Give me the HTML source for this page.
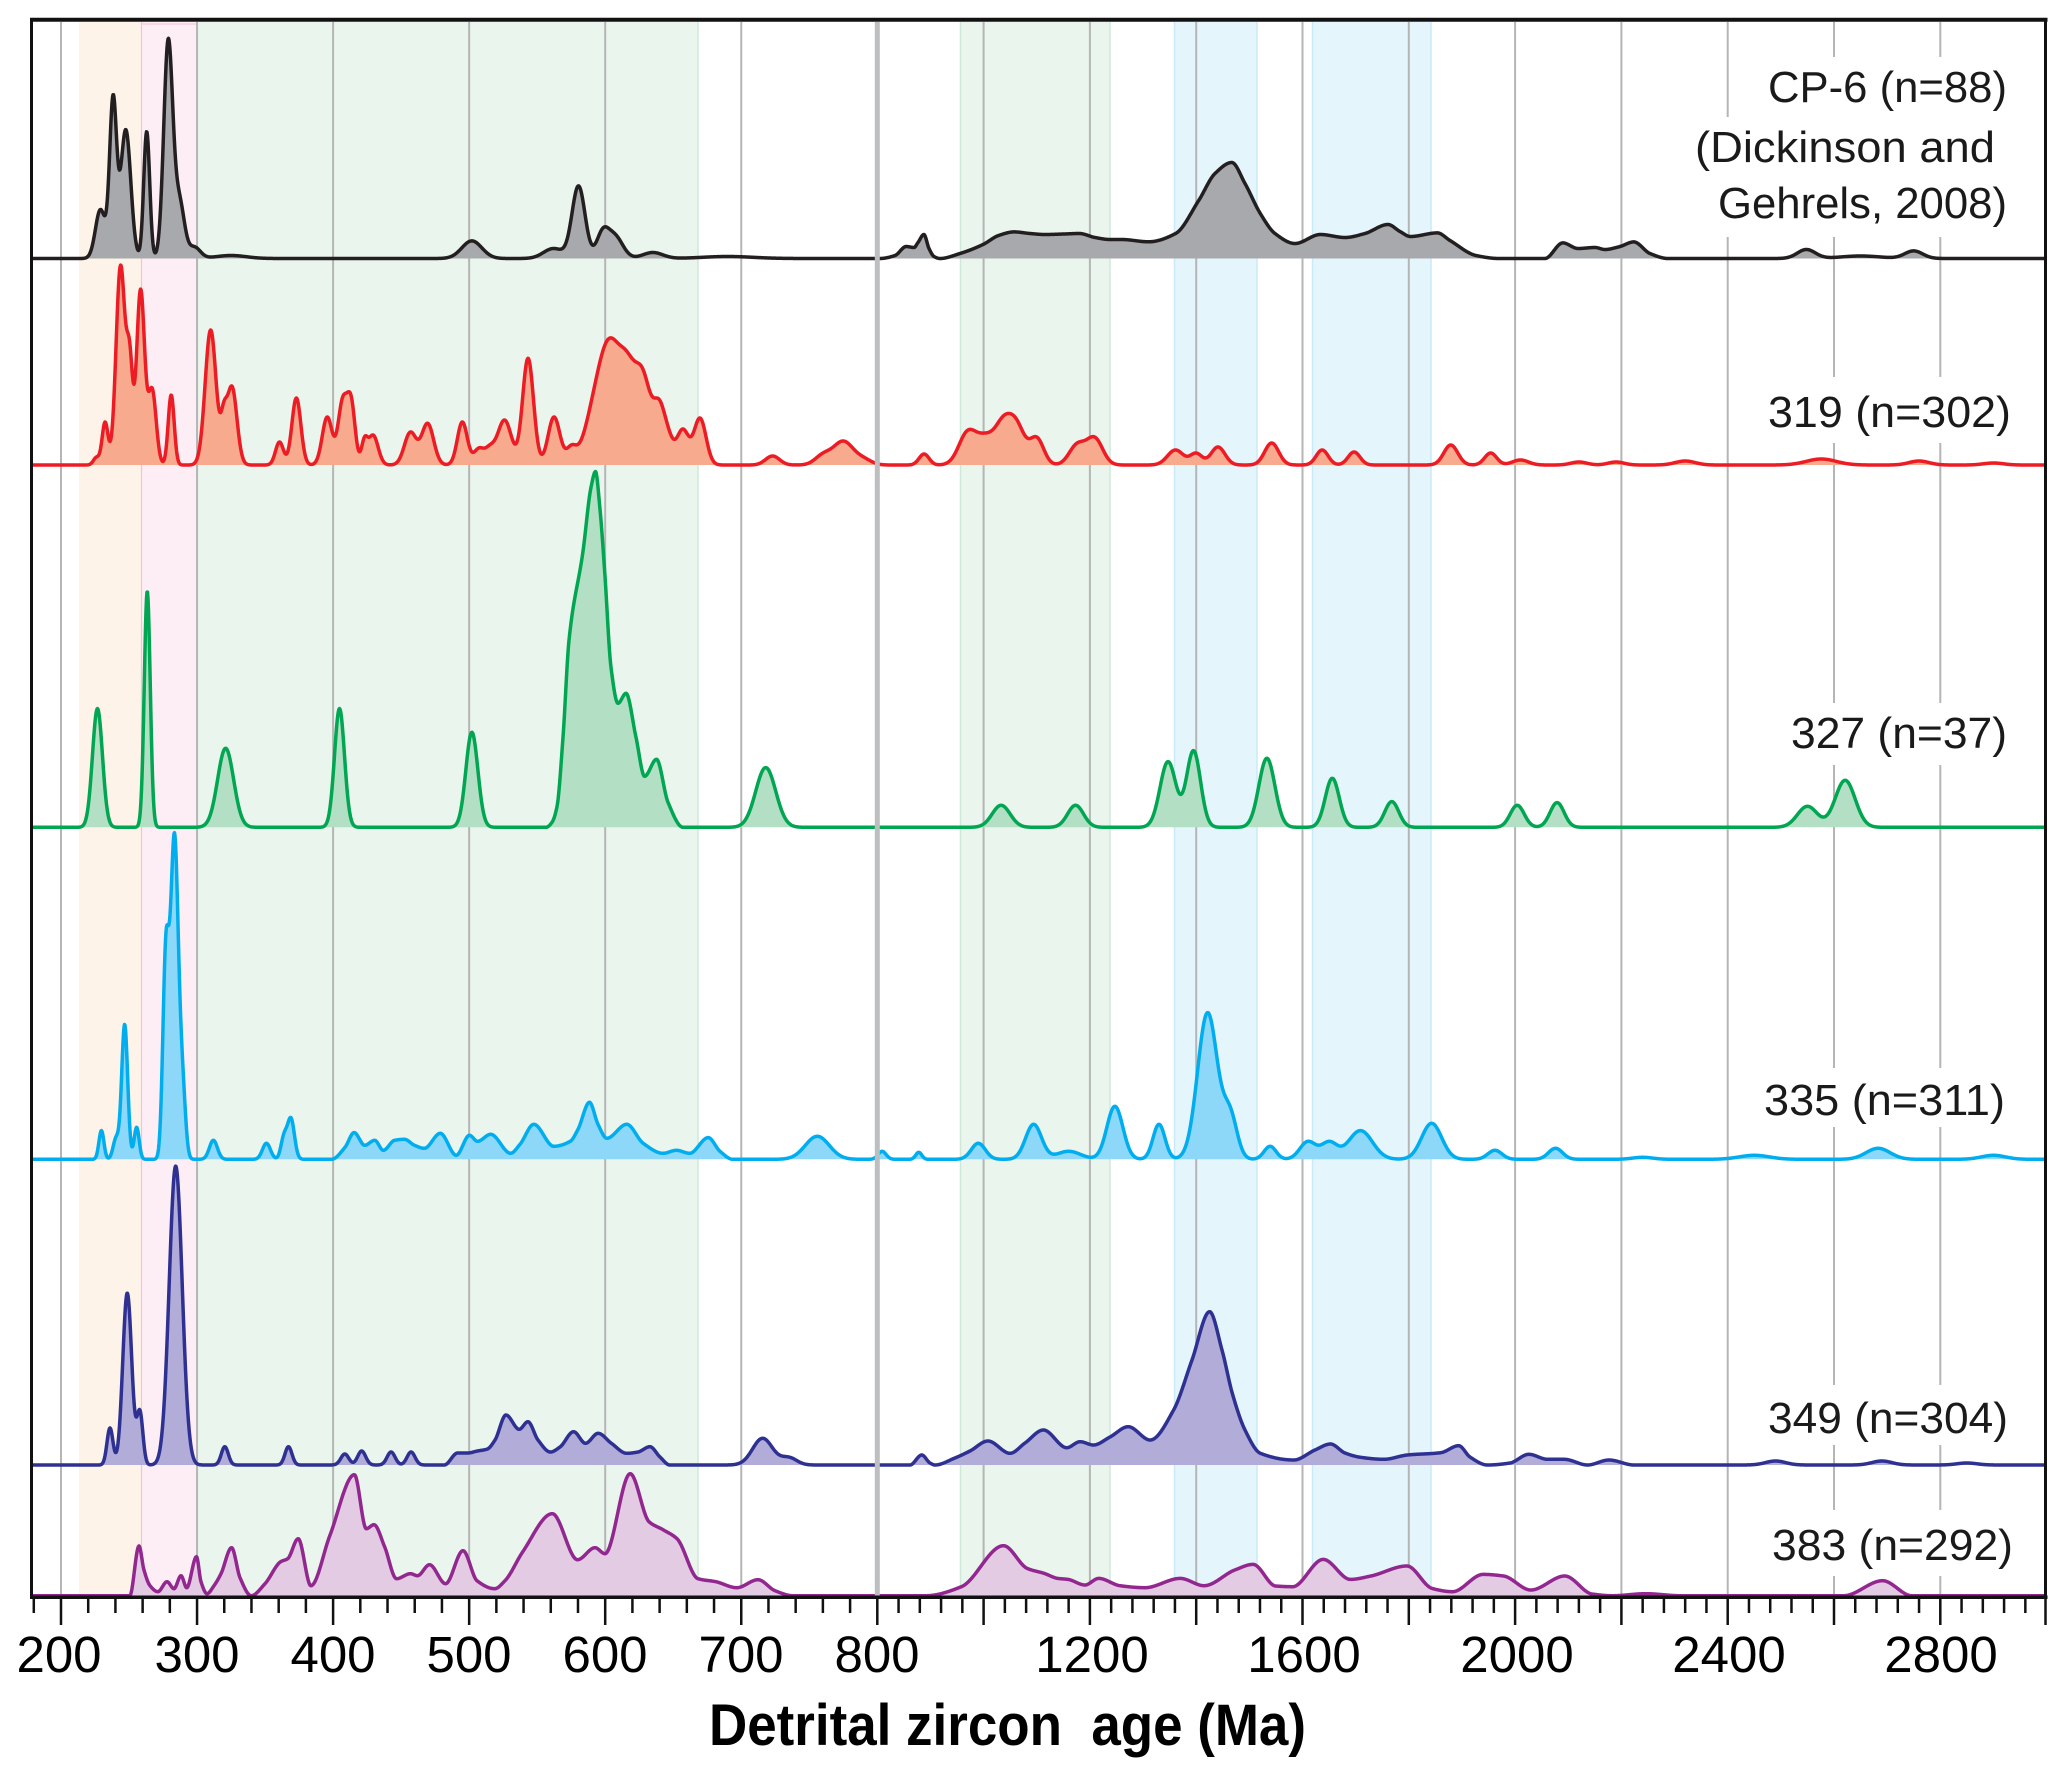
<!DOCTYPE html>
<html><head><meta charset="utf-8">
<style>
html,body{margin:0;padding:0;background:#fff;}
svg{display:block;}
text{font-family:"Liberation Sans",sans-serif;}
</style></head><body>
<svg id="s" width="2067" height="1775" viewBox="0 0 2067 1775" xmlns="http://www.w3.org/2000/svg">
<rect x="0" y="0" width="2067" height="1775" fill="#ffffff"/>
<g id="bands">
<rect x="79" y="22" width="62" height="1574" fill="#fdf3e9"/>
<rect x="141" y="22" width="56" height="1574" fill="#fdeef6"/>
<line x1="141.5" y1="22" x2="141.5" y2="1596" stroke="#f6c2cc" stroke-width="1.2"/>
<line x1="141" y1="24" x2="197" y2="24" stroke="#f6c8d6" stroke-width="1.2"/>
<rect x="197" y="22" width="501" height="1574" fill="#eaf5ed"/>
<line x1="698" y1="22" x2="698" y2="1596" stroke="#cfe9d8" stroke-width="1.5"/>
<rect x="960" y="22" width="150" height="1574" fill="#eaf5ed"/>
<line x1="960.5" y1="22" x2="960.5" y2="1596" stroke="#cfe9d8" stroke-width="1.5"/>
<line x1="1110" y1="22" x2="1110" y2="1596" stroke="#cfe9d8" stroke-width="1.5"/>
<rect x="1174" y="22" width="83" height="1574" fill="#e5f5fc"/>
<line x1="1174.5" y1="22" x2="1174.5" y2="1596" stroke="#c9ebf9" stroke-width="1.5"/>
<line x1="1257" y1="22" x2="1257" y2="1596" stroke="#c9ebf9" stroke-width="1.5"/>
<rect x="1312" y="22" width="119" height="1574" fill="#e5f5fc"/>
<line x1="1312.5" y1="22" x2="1312.5" y2="1596" stroke="#c9ebf9" stroke-width="1.5"/>
<line x1="1431" y1="22" x2="1431" y2="1596" stroke="#c9ebf9" stroke-width="1.5"/>
</g>
<g id="grid" stroke="#b5b5b5" stroke-width="2"></g>
<g id="boxes" fill="#ffffff">
<rect x="1758" y="57" width="262" height="60"/>
<rect x="1685" y="117" width="322" height="60"/>
<rect x="1708" y="177" width="312" height="60"/>
<rect x="1758" y="377" width="265" height="66"/>
<rect x="1781" y="703" width="238" height="62"/>
<rect x="1754" y="1068" width="263" height="59"/>
<rect x="1758" y="1385" width="262" height="60"/>
<rect x="1762" y="1510" width="263" height="66"/>
</g>
<g id="curves"></g>
<line x1="877.3" y1="22" x2="877.3" y2="1596" stroke="#bcbec0" stroke-width="5"/>
<g id="frame" fill="none" stroke="#111" >
<line x1="31.5" y1="18" x2="31.5" y2="1599" stroke-width="3"/>
<line x1="30" y1="19.7" x2="2047.5" y2="19.7" stroke-width="4"/>
<line x1="2045.5" y1="18" x2="2045.5" y2="1599" stroke-width="3"/>
<line x1="30" y1="1597.2" x2="2047.5" y2="1597.2" stroke-width="3.5"/>
</g>
<g id="ticks" stroke="#111" stroke-width="2.5"></g>
<g id="labels" fill="#1a1a1a" font-size="44">
<text x="2007" y="102" text-anchor="end" textLength="239" lengthAdjust="spacingAndGlyphs">CP-6 (n=88)</text>
<text x="1995" y="162" text-anchor="end" textLength="300" lengthAdjust="spacingAndGlyphs">(Dickinson and</text>
<text x="2007" y="218" text-anchor="end" textLength="289" lengthAdjust="spacingAndGlyphs">Gehrels, 2008)</text>
<text x="2011" y="427" text-anchor="end" textLength="243" lengthAdjust="spacingAndGlyphs">319 (n=302)</text>
<text x="2007" y="748" text-anchor="end" textLength="216" lengthAdjust="spacingAndGlyphs">327 (n=37)</text>
<text x="2005" y="1115" text-anchor="end" textLength="241" lengthAdjust="spacingAndGlyphs">335 (n=311)</text>
<text x="2008" y="1433" text-anchor="end" textLength="240" lengthAdjust="spacingAndGlyphs">349 (n=304)</text>
<text x="2013" y="1560" text-anchor="end" textLength="241" lengthAdjust="spacingAndGlyphs">383 (n=292)</text>
</g>
<g id="ticklabels" fill="#000" font-size="51" text-anchor="middle">
<text x="59" y="1672">200</text>
<text x="197" y="1672">300</text>
<text x="333" y="1672">400</text>
<text x="469" y="1672">500</text>
<text x="605" y="1672">600</text>
<text x="741" y="1672">700</text>
<text x="877" y="1672">800</text>
<text x="1092" y="1672">1200</text>
<text x="1304" y="1672">1600</text>
<text x="1517" y="1672">2000</text>
<text x="1729" y="1672">2400</text>
<text x="1941" y="1672">2800</text>
</g>
<text x="709" y="1745" font-size="58" font-weight="bold" fill="#000" textLength="597" lengthAdjust="spacingAndGlyphs" style="white-space:pre">Detrital zircon  age (Ma)</text>
</svg>
<script>
(function(){
var NS="http://www.w3.org/2000/svg";
function X(a){return a<=800?61+(a-200)*1.3605:877.3+(a-800)*0.5315;}
function el(tag,attrs,parent){var e=document.createElementNS(NS,tag);for(var k in attrs)e.setAttribute(k,attrs[k]);parent.appendChild(e);return e;}
var grid=document.getElementById("grid");
[200,300,400,500,600,700].forEach(function(a){var x=X(a);el("line",{x1:x,y1:22,x2:x,y2:1596},grid);});
for(var a=1000;a<=2800;a+=200){var x=X(a);el("line",{x1:x,y1:22,x2:x,y2:1596},grid);}
var tk=document.getElementById("ticks");
for(var a=180;a<=800;a+=20){var x=X(a);var maj=(a%100===0);el("line",{x1:x,y1:1597,x2:x,y2:maj?1625:1613},tk);}
for(var a=840;a<=3000;a+=40){var x=X(a);if(a===3000)x=2045.5;var maj=(a%200===0);el("line",{x1:x,y1:1597,x2:x,y2:maj?1625:1613},tk);}
function solve(A,b){
  var n=b.length,M=A.map(function(r,i){return r.slice().concat([b[i]]);});
  for(var c=0;c<n;c++){
    var p=c;for(var r=c+1;r<n;r++)if(Math.abs(M[r][c])>Math.abs(M[p][c]))p=r;
    var t=M[c];M[c]=M[p];M[p]=t;
    var pv=M[c][c];if(Math.abs(pv)<1e-12)pv=1e-12;
    for(var r=c+1;r<n;r++){var f=M[r][c]/pv;if(f===0)continue;for(var k=c;k<=n;k++)M[r][k]-=f*M[c][k];}
  }
  var x=new Array(n).fill(0);
  for(var r=n-1;r>=0;r--){var s=M[r][n];for(var k=r+1;k<n;k++)s-=M[r][k]*x[k];var d=M[r][r];if(Math.abs(d)<1e-12)d=1e-12;x[r]=s/d;}
  return x;
}
function amps(comps){
  var active=comps.map(function(c,i){return i;});
  var a=new Array(comps.length).fill(0);
  for(var it=0;it<40;it++){
    var A=[],b=[];
    active.forEach(function(i){var row=[];active.forEach(function(j){var d=comps[i].x-comps[j].x;row.push(Math.exp(-d*d/(2*comps[j].s*comps[j].s)));});A.push(row);b.push(comps[i].h);});
    var sol=solve(A,b);var neg=false,next=[];
    a.fill(0);
    active.forEach(function(i,k){if(!(sol[k]>=0)){neg=true;}else{next.push(i);a[i]=sol[k];}});
    if(!neg)break;
    active=next;
  }
  return a;
}
function pchip(P){
  var n=P.length,xs=[],ys=[],h=[],d=[],m=[];
  for(var i=0;i<n;i++){xs.push(P[i][0]);ys.push(P[i][1]);}
  for(var i=0;i<n-1;i++){h[i]=xs[i+1]-xs[i];d[i]=(ys[i+1]-ys[i])/h[i];}
  m[0]=0;m[n-1]=0;
  for(var i=1;i<n-1;i++){
    if(d[i-1]*d[i]<=0)m[i]=0;
    else{var w1=2*h[i]+h[i-1],w2=h[i]+2*h[i-1];m[i]=(w1+w2)/(w1/d[i-1]+w2/d[i]);}
  }
  return function(x){
    if(x<=xs[0]||x>=xs[n-1])return 0;
    var i=0;while(x>xs[i+1])i++;
    var t=(x-xs[i])/h[i],t2=t*t,t3=t2*t;
    return (2*t3-3*t2+1)*ys[i]+(t3-2*t2+t)*h[i]*m[i]+(-2*t3+3*t2)*ys[i+1]+(t3-t2)*h[i]*m[i+1];
  };
}
var rows=[
{b:258.5,c:"#231f20",f:"#a7a9ac",p:[[229,49,5],[238.3,164,3.5],[247.6,129,5],[263,127,3],[278.8,220,4.5],[287,66,5],[298,12,6],[325,3,15],
[502,17.6,10],[562,10,10],[580.4,72.6,6.5],[598,30,6],[607,25,8],[635,6,10],[690,2,25],
[2548,9,9],[2650,2.5,20],[2750,7.6,9]],
k:[[[880,0],[895,3],[906.2,12],[914,11],[918,16],[923.9,24],[929,10],[934,2],[940,0],[960,5],[983,14],[998.6,23],[1014,26.6],[1030,25],[1044.8,24],[1064,24.5],[1079.4,25],[1095,21],[1110,19],[1121.7,19],[1148.7,16.7],[1175.6,25],[1198.7,58],[1215,85],[1231.8,96],[1245,75],[1260.3,45],[1275,25],[1295,15],[1320.3,24],[1345,21],[1365,25],[1388,34],[1400,27],[1410.4,22],[1437.4,25.6],[1450,18],[1476,3],[1499,0]],
[[1545,0],[1562.8,15.6],[1578,10],[1595,11],[1605,9],[1620,12],[1633.7,16.6],[1650,5],[1668,0]]]},
{b:465,c:"#ed1c24",f:"#f8aa8f",p:[[226,8,3],[232.4,43,3],[243.8,200,4.5],[250.5,123,3],[258.5,176,4],[267,77,4],[281,70,3],[310,135,5.5],[319.6,63,3],[325.6,79,5],[360.6,23,4],[373,67,4.5],[395.7,48,5],[407,68,4.5],[413.3,69,4],[423,28,3],[429.4,30,5],[456.8,33,6],[469.5,41.7,6],[495,43,5],[507,17,5],[515,20,5],[526,45,7],[543.3,106.7,5.5],[562.4,48,6],[575,20,5],[590,65,10],[603.5,127,12],[617,111.7,8],[628,95,8],[640,65,6],[647,35,5],[657,36,6],[669.7,47,6],[723,9,7],[760,12,8],[775,24,10],[790,8,8],
[888,11,5],[970.7,35,9],[1003,32,8],[1037,49,9],[1064,44,8],[1100,28,7],[1176,22,8],[1209,28,8],[1361,15,8],[1400,12,6],[1441,18,7],[1542,22,7],[1637,15,6],[1697,13,6],[1879,20,7],[1954,12,6],[2010,5,8],[2120,3,8],[2190,3,8],[2320,4,10],[2576,6,15],[2760,4,10],[2900,2,10]],k:[]},
{b:827.3,c:"#00a651",f:"#b3dfc4",p:[[226.8,118.7,5],[263.4,236,3],[321,79,8],[404.7,118.7,5],[502,95,6],[718,59.7,10],
[1033,22,9],[1173,22,8],[1347,65.7,8],[1395,76.7,7],[1533,69,8],[1656,49,7],[1768,25.7,7],[2004,22,7],[2079,24.7,7],[2550,21,10],[2621,47,10]],
k:[[[546,0],[552,5],[557,20.7],[563,90],[569,187],[583,276],[591,340],[595.5,355.7],[600,318],[604.8,254],[611,160],[618,124],[626,134],[636,90],[644.6,51],[656.5,68],[668,25],[683,0]]]},
{b:1159.3,c:"#00aeef",f:"#8dd8f8",p:[[229.7,28.7,2.5],[240.5,23,3],[246.8,135,3],[255.6,32,2.5],[277,224,3],[283.4,326.7,4],[289.5,96,3],[312,19,4],[351,16,4],[363.8,26,3],[369,41.7,3.5],[755.9,23,12],
[809,8,4],[878,7,3],[990,16,7],[1094,35,8],[1160,8,12],[1247,53,8],[1330,35,6],[1421.5,146.7,10],[1464,52.7,7],[1539,13,6],[1610,18,8],[1650,18,8],[1709,28.7,12],[1843,36,10],[1962,9,7],[2076,11,7],[2240,2,10],[2450,4,15],[2683,11,12],[2900,4,12]],
k:[[[331.6,0],[345,12],[354.1,26.7],[364.7,14],[374.7,19],[383.3,9],[394.6,19],[404.5,20],[414.5,14],[424.4,11],[440.3,26],[456.2,4],[469.5,24],[477.5,18],[490.7,25],[510.6,6],[520,15],[533.8,35],[553.7,13],[570.3,18],[578,30],[589.5,57],[598,35],[606.8,21],[626.7,35],[643.2,16],[663.1,6],[676.4,9],[689.7,6],[708.2,21.7],[720,8],[732.8,0]]]},
{b:1465,c:"#2e3192",f:"#b1acd8",p:[[236,37,3],[248.7,172,4.5],[258,55,3],[284.3,299,6.5],[320.4,18.3,3.5],[367.2,18.3,3.5],[408.6,11,4],[421,14,4],[442.6,13,4],[457.3,13,4],[715.7,26.7,10],[735,8,8],
[2490,4,10],[2690,4,10],[2850,2,10]],
k:[[[444.3,0],[457.6,12],[467.5,12],[477.5,14],[487.4,16],[495,25],[506,50],[519.2,35.7],[527.9,43.3],[538,25],[550.4,13],[560,18],[573.6,33.3],[585.5,21.7],[598.1,31.7],[611.4,21.7],[626.7,11.7],[638,13],[649.9,18.3],[660,8],[669.8,0]],
[[910,0],[921.8,10],[930,2],[935,0],[954.9,7],[970,14],[988,24],[1010,11.7],[1025,22],[1043.4,35],[1066.7,17.3],[1080.1,23.3],[1093.4,20],[1110,28],[1128.2,38.3],[1150.2,25],[1173.6,55],[1192,105],[1209.6,153.3],[1222,115],[1232.3,71.7],[1245,35],[1260.4,11.7],[1293.8,5],[1315,15],[1330.5,21],[1345,12],[1360.5,7.7],[1383.9,5.7],[1407.3,10],[1440.7,12.3],[1458.7,19.3],[1470,8],[1487.4,0],[1510,2],[1528.8,10.7],[1547.5,5.7],[1564.2,5.7],[1587.6,0],[1608.9,5],[1634,0]]]},
{b:1595.7,c:"#92278f",f:"#e3cbe3",p:[],
k:[[[129.8,0],[139,49.7],[143.9,26],[150,10],[157.9,4],[167,14],[174,7],[181,20],[186.7,8],[196.5,39],[201,14],[207,2],[214,10],[221,22],[231.6,48],[240,18],[251.2,0],[265,12],[280.7,34],[287.7,37],[298.2,57],[310.9,10],[329.8,60],[354.4,121],[366.3,67],[374,71],[384.6,49],[396.5,17],[410.5,22],[417.5,20],[429.5,31],[445.6,12],[463,45],[477,15],[494.7,7],[505,15],[522.8,44],[552.3,82],[577.5,36],[595,48],[605,42],[630.2,122],[649,74],[663,66],[677,57],[698,17],[715.8,14],[736.8,8],[758,16],[775,5],[793,0]],
[[926,0],[961.4,9],[1003.5,50],[1027.2,27.3],[1044.2,22.3],[1057.8,17.3],[1068,16.3],[1085,10.7],[1098.7,17.3],[1120,10],[1145,8],[1180.3,17.3],[1204,10],[1234.8,25.7],[1253.1,31.3],[1275.6,9.7],[1292.6,9],[1323.2,36.3],[1350.4,16.3],[1370.9,19.7],[1406.9,29.7],[1432.1,7.3],[1452.5,4],[1483.1,21.3],[1503.5,19.7],[1530.8,5.7],[1564.8,19.7],[1592,1.7],[1612.4,0],[1646,2],[1680,0]],
[[1843.8,0],[1882.6,15],[1911.8,0]]]}
];
var g=document.getElementById("curves");
rows.forEach(function(r){
  var comps=r.p.map(function(q){return {x:X(q[0]),h:q[1],s:q[2]};});
  var a=comps.length?amps(comps):[];
  var fns=(r.k||[]).map(function(seg){return {x0:seg[0][0],x1:seg[seg.length-1][0],f:pchip(seg)};});
  var pts=[];
  for(var x=33.5;x<=2044.5;x+=0.5){
    var v=0;
    for(var i=0;i<comps.length;i++){if(!a[i])continue;var d=x-comps[i].x;var s=comps[i].s;if(d>6*s||d<-6*s)continue;v+=a[i]*Math.exp(-d*d/(2*s*s));}
    for(var j=0;j<fns.length;j++){if(x>fns[j].x0&&x<fns[j].x1)v+=fns[j].f(x);}
    if(v<0)v=0;
    pts.push(x.toFixed(1)+","+(r.b-v).toFixed(2));
  }
  var line="M"+pts.join("L");
  el("path",{d:line+"L2044.5,"+r.b+"L33.5,"+r.b+"Z",fill:r.f},g);
  el("path",{d:line,fill:"none",stroke:r.c,"stroke-width":3.5,"stroke-linejoin":"round","stroke-linecap":"round"},g);
});
})();
</script>
</body></html>
